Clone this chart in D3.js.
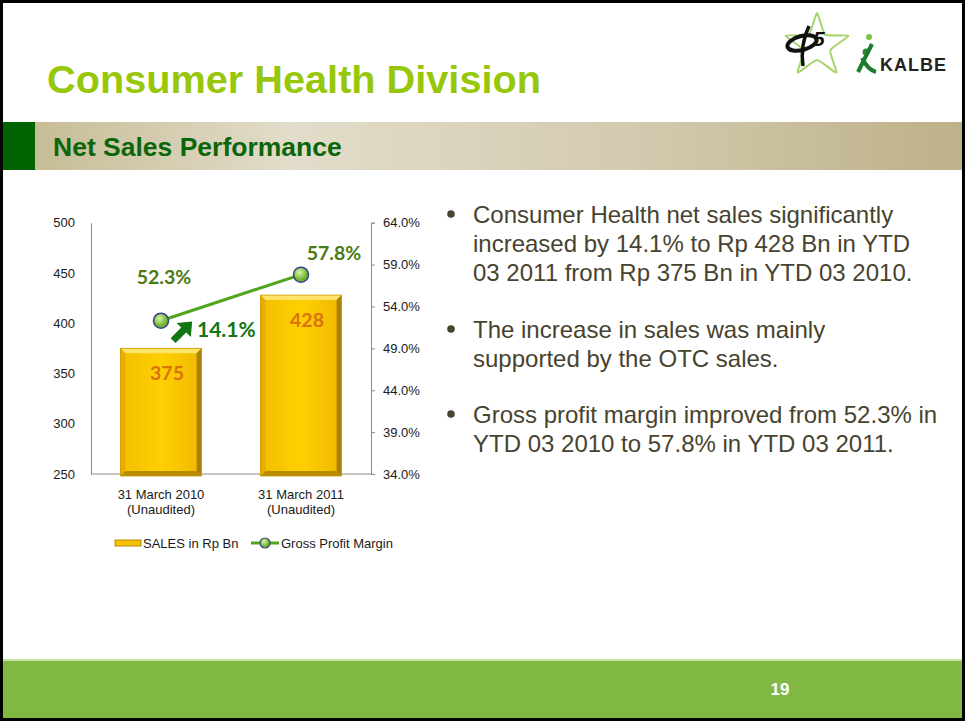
<!DOCTYPE html>
<html>
<head>
<meta charset="utf-8">
<script src="https://cdn.jsdelivr.net/npm/d3@7"></script>
<style>
  body { margin: 0; background: #fff; }
  svg { display: block; font-family: Arial, "Liberation Sans", sans-serif; }
</style>
</head>
<body>
<svg id="slide" width="965" height="721"></svg>
<script>
// ---- data ----
const categories = ["31 March 2010", "31 March 2011"];
const subLabels = ["(Unaudited)", "(Unaudited)"];
const sales = [375, 428];
const grossMargin = [52.3, 57.8];
const leftTicks = [250, 300, 350, 400, 450, 500];
const rightTicks = [34, 39, 44, 49, 54, 59, 64];
const growthText = "14.1%";
const legendNames = ["SALES in Rp Bn", "Gross Profit Margin"];
const bullets = [
  ["Consumer Health net sales significantly", "increased by 14.1% to Rp 428 Bn in YTD", "03 2011 from Rp 375 Bn in YTD 03 2010."],
  ["The increase in sales was mainly", "supported by the OTC sales."],
  ["Gross profit margin improved from 52.3% in", "YTD 03 2010 to 57.8% in YTD 03 2011."]
];

const svg = d3.select("#slide");
const W = 965, H = 721;
const defs = svg.append("defs");

// header band gradient
const hg = defs.append("linearGradient").attr("id", "hdr");
[["0%", "#c3b88f"], ["30%", "#e2ddca"], ["65%", "#d3cbb0"], ["100%", "#bdb188"]].forEach(s =>
  hg.append("stop").attr("offset", s[0]).attr("stop-color", s[1]));

// bar face gradient
const bg = defs.append("linearGradient").attr("id", "barFace");
[["0%", "#f2bd00"], ["50%", "#ffd000"], ["100%", "#f0b800"]].forEach(s =>
  bg.append("stop").attr("offset", s[0]).attr("stop-color", s[1]));

// marker gradient
const mg = defs.append("radialGradient").attr("id", "dot").attr("cx", "40%").attr("cy", "35%");
mg.append("stop").attr("offset", "0%").attr("stop-color", "#d8f5a0");
mg.append("stop").attr("offset", "100%").attr("stop-color", "#6cb52c");

/*
/   Slide frame
*/
svg.append("rect").attr("x", 0).attr("y", 0).attr("width", W).attr("height", H).attr("fill", "#fff");

svg.append("text")
  .attr("x", 47).attr("y", 93)
  .attr("font-size", 39.7).attr("font-weight", "bold")
  .attr("fill", "#97c70a")
  .text("Consumer Health Division");

svg.append("rect").attr("x", 3).attr("y", 122).attr("width", W - 6).attr("height", 48).attr("fill", "url(#hdr)");
svg.append("rect").attr("x", 3).attr("y", 122).attr("width", 32).attr("height", 48).attr("fill", "#006400");
svg.append("text")
  .attr("x", 53).attr("y", 156)
  .attr("font-size", 26.5).attr("font-weight", "bold")
  .attr("fill", "#0b660b")
  .text("Net Sales Performance");

// footer
svg.append("rect").attr("x", 0).attr("y", 660).attr("width", W).attr("height", 61).attr("fill", "#80b843");
svg.append("rect").attr("x", 0).attr("y", 659).attr("width", W).attr("height", 2).attr("fill", "#c6e3a0");
svg.append("text")
  .attr("x", 780).attr("y", 695)
  .attr("text-anchor", "middle")
  .attr("font-size", 17).attr("font-weight", "bold")
  .attr("fill", "#fff")
  .text("19");

// logo (rough)
const logo = svg.append("g");
const star = d3.range(10).map(i => {
  const a = -Math.PI / 2 + i * Math.PI / 5;
  const r = i % 2 ? 14 : 33;
  return [817 + r * Math.cos(a), 46 + r * Math.sin(a)];
});
logo.append("path").attr("d", d3.line().curve(d3.curveCardinalClosed.tension(0.5))(star))
  .attr("fill", "none").attr("stroke", "#a6d46a").attr("stroke-width", 2);
logo.append("ellipse").attr("cx", 802).attr("cy", 43).attr("rx", 15).attr("ry", 7)
  .attr("transform", "rotate(-15 802 43)")
  .attr("fill", "none").attr("stroke", "#111").attr("stroke-width", 4);
logo.append("path").attr("d", "M809,26 Q800,45 803,66").attr("fill", "none").attr("stroke", "#111").attr("stroke-width", 3.5);
logo.append("text").attr("x", 813).attr("y", 46).attr("font-size", 21).attr("font-weight", "bold")
  .attr("fill", "#111").attr("font-style", "italic").text("5");
logo.append("circle").attr("cx", 866).attr("cy", 52).attr("r", 3.5).attr("fill", "#2e8b2e");
logo.append("circle").attr("cx", 869).attr("cy", 37).attr("r", 3).attr("fill", "#7cc242");
logo.append("path").attr("d", "M858,72 Q864,60 872,44 M862,58 Q868,70 876,72")
  .attr("fill", "none").attr("stroke", "#1e7a2e").attr("stroke-width", 4);
logo.append("text").attr("x", 880).attr("y", 71).attr("font-size", 18).attr("font-weight", "bold")
  .attr("fill", "#222").attr("letter-spacing", 1).text("KALBE");

/*
/   Chart
*/
const plot = { left: 91, right: 371, top: 222.7, bottom: 474 };

const x = d3.scaleBand().domain(categories)
  .range([plot.left, plot.right])
  .paddingInner(0.42).paddingOuter(0.21);
const yL = d3.scaleLinear().domain([250, 500]).range([plot.bottom, plot.top]);
const yR = d3.scaleLinear().domain([34, 64]).range([plot.bottom, plot.top]);

const axisColor = "#8a8a8a";

const gLeft = svg.append("g").attr("transform", `translate(${plot.left},0)`)
  .call(d3.axisLeft(yL).tickValues(leftTicks).tickSize(0).tickPadding(16));
const gRight = svg.append("g").attr("transform", `translate(${plot.right},0)`)
  .call(d3.axisRight(yR).tickValues(rightTicks).tickSize(4).tickPadding(8).tickFormat(d => d3.format(".1f")(d) + "%"));
[gLeft, gRight].forEach(g => {
  g.select(".domain").attr("stroke", axisColor);
  g.selectAll(".tick line").attr("stroke", axisColor);
  g.selectAll(".tick text").attr("font-size", 13).attr("font-family", "Arial, 'Liberation Sans', sans-serif").attr("fill", "#1a1a1a");
});

svg.append("line")
  .attr("x1", plot.left).attr("x2", plot.right)
  .attr("y1", plot.bottom).attr("y2", plot.bottom)
  .attr("stroke", axisColor);

// bars with bevel
const bev = 5;
const bars = svg.append("g").selectAll("g").data(sales).join("g");
bars.each(function (d, i) {
  const g = d3.select(this);
  const x0 = x(categories[i]), x1 = x0 + x.bandwidth();
  const y0 = yL(d), y1 = yL(250) + 2;
  g.append("rect").attr("x", x0).attr("y", y0).attr("width", x1 - x0).attr("height", y1 - y0).attr("fill", "url(#barFace)");
  const poly = pts => g.append("polygon").attr("points", pts.map(p => p.join(",")).join(" "));
  poly([[x0, y0], [x1, y0], [x1 - bev, y0 + bev], [x0 + bev, y0 + bev]]).attr("fill", "#ffe46a");
  poly([[x0, y0], [x0 + bev, y0 + bev], [x0 + bev, y1 - bev], [x0, y1]]).attr("fill", "#e8ad00");
  poly([[x1, y0], [x1 - bev, y0 + bev], [x1 - bev, y1 - bev], [x1, y1]]).attr("fill", "#a98000");
  poly([[x0, y1], [x0 + bev, y1 - bev], [x1 - bev, y1 - bev], [x1, y1]]).attr("fill", "#b88c00");
  g.append("rect").attr("x", x0).attr("y", y0).attr("width", x1 - x0).attr("height", y1 - y0)
    .attr("fill", "none").attr("stroke", "#c99c00").attr("stroke-width", 0.8);
});

// bar value labels
svg.append("g").selectAll("text").data(sales).join("text")
  .attr("x", (d, i) => x(categories[i]) + x.bandwidth() / 2 + 6)
  .attr("y", d => yL(d) + 32)
  .attr("text-anchor", "middle")
  .attr("font-family", "Lato, 'Open Sans', sans-serif")
  .attr("font-weight", "bold").attr("font-size", 19.5)
  .attr("fill", "#d9730e")
  .text(d => d);

// gross margin line
const cx = i => x(categories[i]) + x.bandwidth() / 2;
svg.append("path")
  .datum(grossMargin)
  .attr("d", d3.line().x((d, i) => cx(i)).y(d => yR(d)))
  .attr("fill", "none").attr("stroke", "#4fa61c").attr("stroke-width", 3);

svg.append("g").selectAll("circle").data(grossMargin).join("circle")
  .attr("cx", (d, i) => cx(i)).attr("cy", d => yR(d)).attr("r", 7.5)
  .attr("fill", "url(#dot)").attr("stroke", "#3b3f8f").attr("stroke-width", 1.5);

const marginOffsets = [[3, -37], [33, -15]];
svg.append("g").selectAll("text").data(grossMargin).join("text")
  .attr("x", (d, i) => cx(i) + marginOffsets[i][0])
  .attr("y", d => yR(d))
  .attr("dy", (d, i) => marginOffsets[i][1])
  .attr("text-anchor", "middle")
  .attr("font-family", "Lato, 'Open Sans', sans-serif")
  .attr("font-weight", "bold").attr("font-size", 19.5)
  .attr("fill", "#4d7a12")
  .text(d => d3.format(".1f")(d) + "%");

// growth arrow and label
const ax = cx(0) + 22, ay = yR(grossMargin[0]) + 10;
const arrow = svg.append("g").attr("transform", `translate(${ax},${ay}) rotate(-45)`);
arrow.append("rect").attr("x", -14).attr("y", -3.5).attr("width", 16).attr("height", 7).attr("fill", "#137513");
arrow.append("polygon").attr("points", "1,-10 13,0 1,10").attr("fill", "#137513");
svg.append("text")
  .attr("x", cx(0) + 36).attr("y", yR(grossMargin[0]) + 16)
  .attr("font-family", "Lato, 'Open Sans', sans-serif")
  .attr("font-weight", "bold").attr("font-size", 21)
  .attr("fill", "#137513")
  .text(growthText);

// category labels
const catG = svg.append("g").selectAll("text").data(categories).join("text")
  .attr("x", d => x(d) + x.bandwidth() / 2)
  .attr("y", 499)
  .attr("text-anchor", "middle")
  .attr("font-size", 13).attr("fill", "#1a1a1a");
catG.append("tspan").text(d => d);
catG.append("tspan").attr("x", d => x(d) + x.bandwidth() / 2).attr("dy", 15).text((d, i) => subLabels[i]);

// legend
const leg = svg.append("g");
leg.append("rect").attr("x", 115).attr("y", 540).attr("width", 26).attr("height", 6)
  .attr("fill", "#f4c000").attr("stroke", "#b88c00").attr("stroke-width", 1);
leg.append("text").attr("x", 143).attr("y", 548).attr("font-size", 13).attr("fill", "#1a1a1a").text(legendNames[0]);
leg.append("line").attr("x1", 251).attr("x2", 279).attr("y1", 543).attr("y2", 543)
  .attr("stroke", "#4fa61c").attr("stroke-width", 3);
leg.append("circle").attr("cx", 265).attr("cy", 543).attr("r", 5)
  .attr("fill", "url(#dot)").attr("stroke", "#3b3f8f").attr("stroke-width", 1.2);
leg.append("text").attr("x", 281).attr("y", 548).attr("font-size", 13).attr("fill", "#1a1a1a").text(legendNames[1]);

/*
/   Bullet text
*/
const bulletTop = [223, 338, 423];
const lineGap = 28.8;
bullets.forEach((lines, b) => {
  svg.append("circle").attr("cx", 451).attr("cy", bulletTop[b] - 9).attr("r", 3.8).attr("fill", "#47432f");
  lines.forEach((t, k) => {
    svg.append("text")
      .attr("x", 473).attr("y", bulletTop[b] + k * lineGap)
      .attr("font-size", 24).attr("fill", "#47432f")
      .text(t);
  });
});

// outer border
svg.append("rect").attr("x", 1.5).attr("y", 1.5).attr("width", W - 3).attr("height", H - 3)
  .attr("fill", "none").attr("stroke", "#000").attr("stroke-width", 3);
</script>
</body>
</html>
